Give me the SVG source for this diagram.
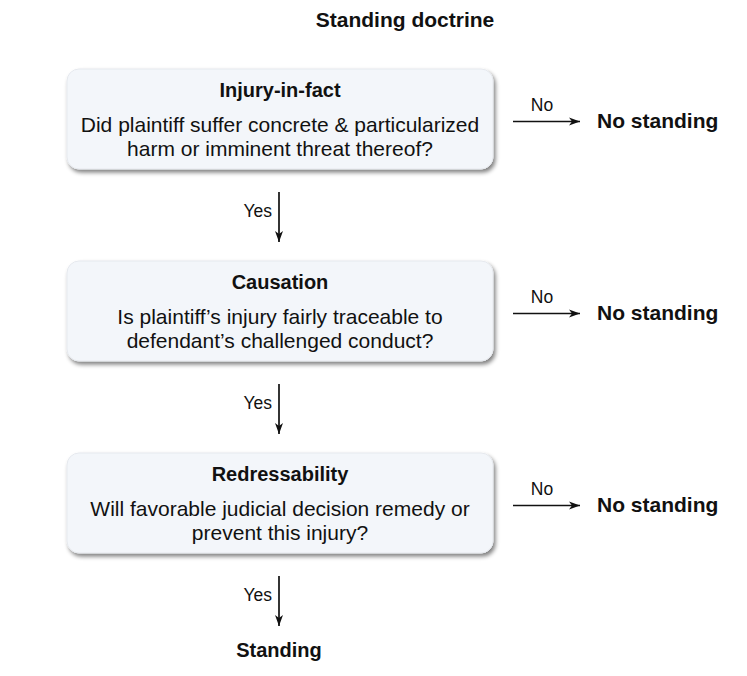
<svg xmlns="http://www.w3.org/2000/svg" width="747" height="676" viewBox="0 0 747 676">
<defs>
<filter id="sh" x="-5%" y="-10%" width="110%" height="125%">
<feGaussianBlur in="SourceAlpha" stdDeviation="2"/>
<feOffset dx="2" dy="3" result="b"/>
<feComponentTransfer><feFuncA type="linear" slope="0.5"/></feComponentTransfer>
<feMerge><feMergeNode/><feMergeNode in="SourceGraphic"/></feMerge>
</filter>
<marker id="ah" markerWidth="12" markerHeight="12" refX="11" refY="6" orient="auto" markerUnits="userSpaceOnUse">
<path d="M0,2 L11,6 L0,10 L3,6 Z" fill="#111"/>
</marker>
</defs>
<style>
text{font-family:"Liberation Sans",Arial,sans-serif;fill:#111}
.t{font-size:20px;font-weight:bold;text-anchor:middle}
.b{font-size:21px;text-anchor:middle}
.l{font-size:17.5px}
.ns{font-size:21px;font-weight:bold}
.box{fill:#f3f6fa;stroke:#e6e9ee;stroke-width:1}
.c{stroke:#111;stroke-width:1.7;fill:none;marker-end:url(#ah)}
</style>
<rect width="747" height="676" fill="#fff"/>
<text x="405" y="27" class="t" style="font-size:21px">Standing doctrine</text>
<g id="injury">
<rect x="67" y="69" width="426" height="100" rx="12" class="box" filter="url(#sh)"/>
<text x="280" y="97" class="t">Injury-in-fact</text>
<text x="280" y="132" class="b">Did plaintiff suffer concrete &amp; particularized</text>
<text x="280" y="156" class="b">harm or imminent threat thereof?</text>
</g>
<g id="causation">
<rect x="67" y="261" width="426" height="100" rx="12" class="box" filter="url(#sh)"/>
<text x="280" y="289" class="t">Causation</text>
<text x="280" y="324" class="b">Is plaintiff’s injury fairly traceable to</text>
<text x="280" y="348" class="b">defendant’s challenged conduct?</text>
</g>
<g id="redress">
<rect x="67" y="453" width="426" height="100" rx="12" class="box" filter="url(#sh)"/>
<text x="280" y="481" class="t">Redressability</text>
<text x="280" y="516" class="b">Will favorable judicial decision remedy or</text>
<text x="280" y="540" class="b">prevent this injury?</text>
</g>
<g id="ns1"><text x="597" y="128" class="ns">No standing</text></g>
<g id="ns2"><text x="597" y="320" class="ns">No standing</text></g>
<g id="ns3"><text x="597" y="512" class="ns">No standing</text></g>
<g id="standing"><text x="279" y="657" class="t">Standing</text></g>
<g id="connectors">
<line x1="279" y1="192" x2="279" y2="242" class="c"/>
<text x="272" y="217" class="l" text-anchor="end">Yes</text>
<line x1="279" y1="384" x2="279" y2="434" class="c"/>
<text x="272" y="409" class="l" text-anchor="end">Yes</text>
<line x1="279" y1="576" x2="279" y2="626" class="c"/>
<text x="272" y="601" class="l" text-anchor="end">Yes</text>
<line x1="513" y1="121.5" x2="580" y2="121.5" class="c"/>
<text x="542" y="111" class="l" text-anchor="middle">No</text>
<line x1="513" y1="313.5" x2="580" y2="313.5" class="c"/>
<text x="542" y="303" class="l" text-anchor="middle">No</text>
<line x1="513" y1="505.5" x2="580" y2="505.5" class="c"/>
<text x="542" y="495" class="l" text-anchor="middle">No</text>
</g>
</svg>
